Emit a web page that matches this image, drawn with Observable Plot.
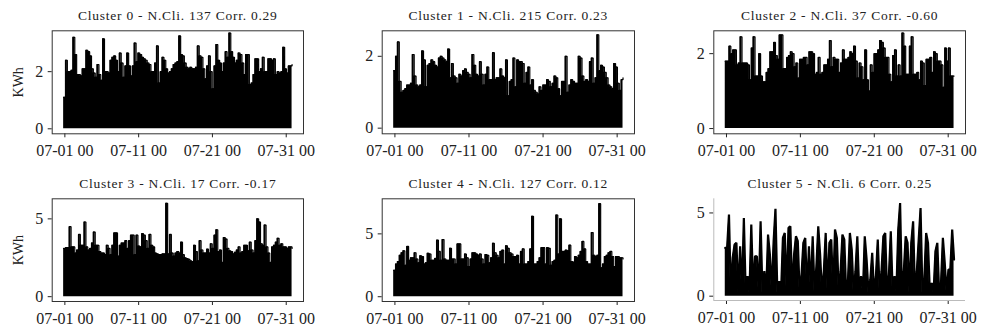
<!DOCTYPE html>
<html><head><meta charset="utf-8">
<script src="https://cdn.jsdelivr.net/npm/d3@7"></script>
<script src="https://cdn.jsdelivr.net/npm/@observablehq/plot@0.6"></script>
<style>
body{margin:0;background:#fff;overflow:hidden}
#wrap{position:relative;width:981px;height:332px;overflow:hidden}
#wrap > svg{position:absolute}
</style></head><body><div id="wrap"></div>
<script>
// ---- data ----
const titles = [
  "Cluster 0 - N.Cli. 137 Corr. 0.29",
  "Cluster 1 - N.Cli. 215 Corr. 0.23",
  "Cluster 2 - N.Cli. 37 Corr. -0.60",
  "Cluster 3 - N.Cli. 17 Corr. -0.17",
  "Cluster 4 - N.Cli. 127 Corr. 0.12",
  "Cluster 5 - N.Cli. 6 Corr. 0.25"
];
const yLabel = "KWh";
const xTickDates = ["2019-07-01T00:00Z","2019-07-11T00:00Z","2019-07-21T00:00Z","2019-07-31T00:00Z"];
const yTicksSmall = [0, 2];
const yTicksLarge = [0, 5];
const seriesStart = "2019-06-30T20:00Z";
const seriesEnd = "2019-07-31T19:00Z";

const cluster0 = [1.1,2.4,2.0,2.0,2.05,3.2,2.6,1.9,1.9,1.85, 2.1,2.1,2.75,2.7,2.55,2.1,1.95,1.8,2.25,1.9, 1.7,3.15,2.0,2.0,1.95,2.4,2.5,2.55,2.4,2.0, 2.65,2.3,1.8,2.2,2.65,2.2,1.85,2.2,3.0,2.35, 2.65,2.6,2.5,2.45,2.4,2.3,2.25,2.0,2.0,2.3, 2.9,1.6,2.0,2.5,2.4,2.1,1.95,2.0,2.1,2.25, 2.3,2.35,3.25,2.6,2.55,2.3,2.15,2.1,2.15,2.1, 2.1,2.15,2.9,2.55,2.5,2.1,1.75,2.2,2.55,2.0, 1.4,2.2,2.95,2.4,2.3,2.0,2.3,2.7,2.5,3.35, 2.7,2.5,2.3,2.4,2.65,2.6,2.3,1.9,2.6,2.6, 1.55,1.6,1.9,2.45,2.45,2.0,2.1,2.5,2.0,2.0, 2.45,2.45,2.4,2.45,1.9,2.0,1.95,2.0,2.85,2.1, 1.95,2.2,2.2,2.25];
const cluster1 = [1.6,2.0,2.4,1.3,1.0,1.05,1.1,1.2,1.2,1.25, 2.05,1.45,1.2,1.15,1.2,2.15,1.9,1.15,1.75,1.8, 1.9,1.85,1.75,1.7,1.95,2.0,1.95,1.9,1.85,2.2, 1.4,1.8,1.45,1.4,1.25,1.5,1.45,1.6,1.65,1.55, 1.5,1.4,2.05,1.75,1.5,1.45,1.85,1.5,1.2,1.5, 1.7,1.35,1.35,2.1,1.35,1.4,1.4,1.65,1.45,1.4, 1.9,0.9,1.3,1.35,1.95,1.15,1.9,1.85,1.85,1.8, 1.25,1.55,1.7,1.2,1.35,1.05,1.0,0.95,1.15,1.05, 1.2,1.2,1.35,1.3,1.15,1.25,1.45,1.4,1.1,0.9, 1.3,1.3,2.0,1.0,1.2,1.35,1.3,1.25,1.25,2.0, 1.95,1.45,1.3,1.35,1.3,1.85,1.95,1.25,1.4,2.6, 1.6,1.75,1.7,1.55,1.4,1.2,1.15,1.1,1.8,1.7, 1.25,1.05,1.35,1.4];
const cluster2 = [1.8,1.8,2.2,2.0,2.1,2.1,1.7,1.75,2.45,1.75,1.75, 1.75,1.7,1.3,2.15,2.45,1.4,1.4,2.0,1.4,1.25,1.25, 1.5,1.6,2.05,2.05,2.3,1.95,1.85,2.5,2.5,1.6,1.6, 1.9,1.95,2.05,2.0,1.65,1.75,1.35,1.85,1.85,1.9,1.9, 1.7,2.05,2.05,2.0,1.45,1.5,1.9,1.45,1.5,1.7,1.7, 1.85,2.35,1.65,1.9,1.85,1.85,1.5,1.75,2.1,1.85,1.85, 1.9,2.05,2.0,2.2,1.8,1.35,1.75,1.65,1.3,2.1,1.3, 1.0,1.7,1.5,2.0,2.0,2.1,2.35,2.3,2.15,1.9,1.9, 1.45,1.25,1.95,2.1,1.4,1.7,1.4,2.55,2.2,1.45,1.45, 2.2,2.45,1.45,1.45,1.5,1.3,1.8,1.75,1.15,1.85,1.85, 1.9,1.5,2.05,2.0,1.8,1.8,1.7,1.1,2.15,1.8,2.15,1.4,1.4,1.4];
const cluster3 = [3.1,3.15,3.15,4.5,3.2,3.2,2.8,3.0,4.0,3.3,3.3, 4.8,3.2,3.0,3.1,3.45,4.15,3.3,3.3,2.9,2.8,2.8, 2.7,3.3,3.1,2.7,3.3,4.1,4.1,2.6,3.3,3.45,3.45, 3.6,3.1,3.6,3.95,3.95,2.7,3.95,3.25,3.2,4.05,3.95, 3.6,3.1,4.0,3.3,3.2,2.8,2.75,2.7,2.7,2.75,2.75, 6.0,2.75,4.0,2.8,2.6,2.8,2.9,2.8,3.5,2.7,2.5, 2.45,2.4,2.3,2.25,3.3,2.9,2.3,3.6,3.0,2.8,2.8, 3.05,2.8,3.4,3.1,3.95,4.3,2.9,3.0,2.2,3.8,3.7, 3.1,2.95,2.9,2.75,2.85,3.0,3.2,2.8,2.9,3.3,3.3, 2.95,3.5,3.0,2.8,3.6,5.0,4.8,3.4,3.3,4.6,3.2, 2.8,2.2,3.2,3.3,3.5,3.75,3.3,3.4,3.2,3.2,3.1,3.2,3.2,3.1];
const cluster4 = [2.1,2.6,2.8,3.3,3.5,3.65,2.5,4.0,2.9,3.1,3.1, 3.5,3.0,2.7,3.25,3.2,2.6,2.7,3.45,3.4,2.9,2.9, 3.05,4.5,3.6,2.9,4.55,3.0,2.9,2.9,3.85,3.0,3.0, 2.6,4.2,4.2,3.0,3.0,3.4,3.1,2.4,3.0,3.5,3.5, 3.4,3.3,3.4,3.0,2.6,3.35,3.3,2.7,3.1,4.25,3.5, 3.3,3.1,3.6,3.7,2.6,4.05,3.85,3.5,3.4,3.2,3.2, 3.3,2.6,3.6,3.8,2.6,2.6,2.8,3.8,6.4,2.6,2.6, 2.8,3.1,3.9,3.9,2.6,3.9,3.85,2.5,2.8,2.9,6.5, 3.4,6.2,3.6,3.6,3.7,3.65,4.1,2.8,2.75,3.2,3.1, 3.3,3.6,4.4,3.8,2.8,2.6,2.6,5.1,3.3,3.2,3.3, 7.4,2.3,2.6,3.2,3.3,3.5,3.6,3.2,2.4,3.2,3.2,3.1,3.1,3.0];
const cluster5 = [2.9,2.9,4.9,0.2,2.3,3.1,3.2,0.2,3.0,0.2, 4.7,0.2,1.2,0.2,4.3,0.3,2.4,2.4,0.2,4.5, 0.2,1.5,0.2,3.7,2.5,0.3,3.3,5.25,0.2,0.9, 0.2,3.5,3.8,0.3,4.1,4.2,0.2,2.5,3.6,3.3, 0.2,1.3,3.2,3.5,0.2,3.0,0.3,3.6,0.2,1.8, 4.2,2.5,0.2,1.5,3.8,0.3,3.2,3.4,0.2,4.0, 3.5,0.2,1.5,3.7,3.4,0.2,1.0,3.8,2.8,0.2, 1.5,3.6,0.3,1.2,0.2,3.6,2.2,0.2,1.0,2.6, 0.2,1.2,3.4,0.2,1.5,3.6,3.8,0.2,1.3,3.9, 0.2,1.2,0.3,4.0,5.6,0.2,1.5,3.6,3.2,0.2, 3.2,4.5,0.2,1.5,3.4,5.3,0.2,1.0,3.8,3.2, 0.2,0.8,0.2,2.7,3.2,0.2,0.8,3.5,2.0,0.2, 1.6,1.6,4.0,2.2];

// ---- layout (not data) ----
const panels = [
  {vals: cluster0, yDomain: [-0.175, 3.43], yTicks: yTicksSmall, left: 0,   top: 0,   w: 330, h: 166, L: 51.7,  R: 303,   T: 30.3,  B: 133.3, ylab: true},
  {vals: cluster1, yDomain: [-0.157, 2.71], yTicks: yTicksSmall, left: 330, top: 0,   w: 330, h: 166, L: 381.7, R: 634,   T: 30.3,  B: 133.3},
  {vals: cluster2, yDomain: [-0.14, 2.61],  yTicks: yTicksSmall, left: 660, top: 0,   w: 321, h: 166, L: 713.3, R: 965,   T: 30.3,  B: 133.3},
  {vals: cluster3, yDomain: [-0.31, 6.29],  yTicks: yTicksLarge, left: 0,   top: 168, w: 330, h: 164, L: 51.7,  R: 303,   T: 198.3, B: 301, ylab: true},
  {vals: cluster4, yDomain: [-0.38, 7.79],  yTicks: yTicksLarge, left: 330, top: 168, w: 330, h: 164, L: 381.7, R: 634,   T: 198.3, B: 301},
  {vals: cluster5, yDomain: [-0.26, 5.85],  yTicks: yTicksLarge, left: 660, top: 168, w: 321, h: 164, L: 713.3, R: 965,   T: 198.3, B: 300, open: true}
];
const DAY = 864e5;
const t0 = new Date(seriesStart), t1 = new Date(seriesEnd);
const xDomain = [new Date(+t0 - 1.55 * DAY), new Date(+t1 + 1.55 * DAY)];
const xTicks = xTickDates.map(d => new Date(d));
const fmt = d3.utcFormat("%m-%d %H");
const font = "'Liberation Serif', 'Times New Roman', serif";

const wrap = document.getElementById("wrap");
panels.forEach((p, k) => {
  const step = (+t1 - +t0) / (p.vals.length - 1);
  const data = p.vals.map((v, i) => ({t: new Date(+t0 + i * step), v}));
  const curve = p.open ? "linear" : "step-after";
  const marks = [
    Plot.areaY(data, {x: "t", y: "v", curve, fill: "#000"}),
    Plot.lineY(data, {x: "t", y: "v", curve, stroke: "#000", strokeWidth: p.open ? 2.2 : 1.2, strokeLinejoin: "miter"}),
    Plot.text([titles[k]], {text: d => d, frameAnchor: "top", dy: -15, lineAnchor: "middle", fontSize: 13.5, fill: "#222"})
  ];
  if (p.ylab) marks.push(Plot.text([yLabel], {text: d => d, frameAnchor: "left", dx: -34, rotate: -90, textAnchor: "middle", lineAnchor: "middle", fontSize: 14, fill: "#222"}));
  if (p.open) {
    marks.push(Plot.ruleX([xDomain[0]], {stroke: "#bbb"}));
    marks.push(Plot.ruleY([p.yDomain[0]], {stroke: "#bbb"}));
  } else {
    marks.push(Plot.frame({stroke: "#333", strokeWidth: 1}));
  }
  const svg = Plot.plot({
    width: p.w, height: p.h,
    marginLeft: p.L - p.left, marginRight: p.left + p.w - p.R,
    marginTop: p.T - p.top, marginBottom: p.top + p.h - p.B,
    style: {fontFamily: font, fontSize: "16px", color: "#222", background: "transparent", overflow: "visible"},
    x: {type: "utc", domain: xDomain, ticks: xTicks, tickFormat: fmt, tickSize: 4, tickPadding: 7, label: null},
    y: {domain: p.yDomain, ticks: p.yTicks, tickFormat: d3.format("d"), tickSize: 4, tickPadding: 5, label: null},
    marks
  });
  // widen the panel title's tracking to match the reference's LaTeX spacing
  d3.select(svg).selectAll('g[aria-label="text"] text')
    .filter(function() { return this.textContent.startsWith("Cluster"); })
    .attr("letter-spacing", "0.75px");
  svg.style.left = p.left + "px";
  svg.style.top = p.top + "px";
  wrap.appendChild(svg);
});
</script></body></html>
